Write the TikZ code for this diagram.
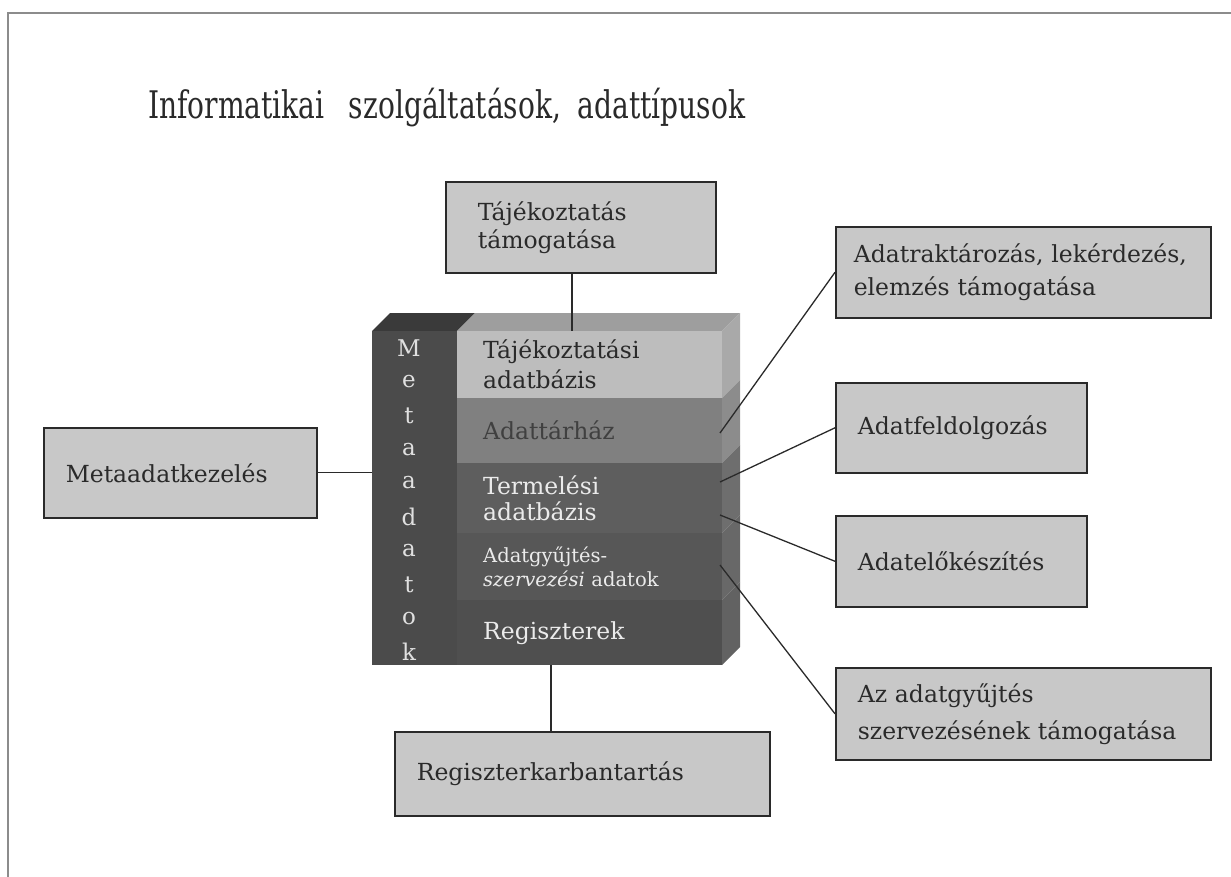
\documentclass[tikz,border=0pt]{standalone}
\usepackage{fontspec}
\setmainfont{DejaVu Serif}
\newfontfamily\titlefont[FakeStretch=0.74]{DejaVu Serif}
\definecolor{boxfill}{HTML}{C8C8C8}
\definecolor{boxline}{HTML}{2A2A2A}
\definecolor{txt}{HTML}{2A2A2A}
\definecolor{metacol}{HTML}{4B4B4B}
\definecolor{metatop}{HTML}{3A3A3A}
\definecolor{retegA}{HTML}{BDBDBD}
\definecolor{retegB}{HTML}{808080}
\definecolor{retegC}{HTML}{5E5E5E}
\definecolor{retegD}{HTML}{575757}
\definecolor{retegE}{HTML}{4F4F4F}
\definecolor{tetolap}{HTML}{9E9E9E}
\definecolor{oldalA}{HTML}{A9A9A9}
\definecolor{oldalB}{HTML}{8C8C8C}
\definecolor{oldalC}{HTML}{6E6E6E}
\definecolor{oldalD}{HTML}{686868}
\definecolor{oldalE}{HTML}{626262}

\begin{document}
\begin{tikzpicture}[x=1pt, y=-1pt,
    doboz/.style={draw=boxline, line width=1.6pt, fill=boxfill, text=txt, align=left,
        inner xsep=22pt, inner ysep=0pt, anchor=north west,
        font=\fontsize{23.5}{33}\selectfont},
    reteg/.style={anchor=north west, inner xsep=26pt, inner ysep=0pt, text width=213pt,
        minimum height=#1, align=left, font=\fontsize{23.5}{30}\selectfont},
    betu/.style={text=white!88!black, font=\fontsize{23}{23}\selectfont, inner sep=0pt},
    vonal/.style={line width=1.3pt, draw=boxline}]

    \useasboundingbox (0,0) rectangle (1231,877);

    % Keret
    \draw[line width=2pt, black!45] (8,877) -- (8,13) -- (1231,13);

    % Cím
    \node[anchor=west, text=txt, font=\titlefont\fontsize{38}{38}\selectfont, inner sep=0pt] (cim) at (148,108)
        {Informatikai\hspace{0.4em} szolgáltatások,\hspace{0.2em} adattípusok};

    % A kocka teteje és oldala
    \fill[metatop] (372,331) -- (390,313) -- (475,313) -- (457,331) -- cycle;
    \fill[tetolap] (457,331) -- (475,313) -- (740,313) -- (722,331) -- cycle;
    \fill[oldalA] (722,331) -- (740,313) -- (740,380) -- (722,398) -- cycle;
    \fill[oldalB] (722,398) -- (740,380) -- (740,445) -- (722,463) -- cycle;
    \fill[oldalC] (722,463) -- (740,445) -- (740,515) -- (722,533) -- cycle;
    \fill[oldalD] (722,533) -- (740,515) -- (740,582) -- (722,600) -- cycle;
    \fill[oldalE] (722,600) -- (740,582) -- (740,647) -- (722,665) -- cycle;

    % Metaadatok oszlop
    \node[fill=metacol, anchor=north west, minimum width=85pt, minimum height=334pt, inner sep=0pt] (metaoszlop) at (372,331) {};
    \foreach \c [count=\i] in {M,e,t,a,a,d,a,t,o,k}
        \node[betu] (betu\i) at (409,{314+33.8*\i}) {\c};

    % Rétegek
    \node[reteg=67pt, fill=retegA, text=txt] (tajdb) at (457,331) {Tájékoztatási\\adatbázis};
    \node[reteg=65pt, fill=retegB, text=black!75] (adattarhaz) at (457,398) {Adattárház};
    \node[reteg=70pt, fill=retegC, text=white!92!black, font=\fontsize{23.5}{26}\selectfont] (termdb) at (457,463) {Termelési\\adatbázis};
    \node[reteg=67pt, fill=retegD, text=white!92!black, font=\fontsize{19.5}{24}\selectfont] (gyujtes) at (457,533) {Adatgyűjtés-\\\textit{szervezési} adatok};
    \node[reteg=65pt, fill=retegE, text=white!92!black] (regiszter) at (457,600) {Regiszterek};

    % Dobozok
    \node[doboz, minimum height=91pt, inner xsep=32pt, text width=206pt, font=\fontsize{23.5}{28}\selectfont] (tamog) at (445,181) {Tájékoztatás\\támogatása};
    \node[doboz, inner xsep=18pt, text width=339pt, minimum height=91pt] (raktar) at (835,226) {Adatraktározás, lekérdezés,\\elemzés támogatása};
    \node[doboz, text width=207pt, minimum height=90pt] (feldolg) at (835,382) {Adatfeldolgozás};
    \node[doboz, text width=207pt, minimum height=91pt] (elokesz) at (835,515) {Adatelőkészítés};
    \node[doboz, text width=331pt, minimum height=92pt, font=\fontsize{23.5}{37}\selectfont] (szervez) at (835,667) {Az adatgyűjtés\\szervezésének támogatása};
    \node[doboz, text width=229pt, minimum height=90pt] (meta) at (43,427) {Metaadatkezelés};
    \node[doboz, text width=331pt, minimum height=84pt] (regkarb) at (394,731) {Regiszterkarbantartás};

    % Csatlakozási pontok
    \coordinate (tajcsat) at (572,331);
    \coordinate (raktarcsat) at (720,433);
    \coordinate (feldolgcsat) at (720,482);
    \coordinate (elokeszcsat) at (720,515);
    \coordinate (szervezcsat) at (720,565);
    \coordinate (regcsat) at (551,665);

    % Összekötő vonalak
    \draw[vonal] (tamog.south -| tajcsat) -- (tajcsat);
    \draw[vonal] (meta.east) -- (meta.east -| metaoszlop.west);
    \draw[vonal] (regcsat) -- (regcsat |- regkarb.north);
    \draw[vonal] (raktar.west) -- (raktarcsat);
    \draw[vonal] (feldolg.west) -- (feldolgcsat);
    \draw[vonal] (elokesz.west) -- (elokeszcsat);
    \draw[vonal] (szervez.west) -- (szervezcsat);

\end{tikzpicture}
\end{document}
